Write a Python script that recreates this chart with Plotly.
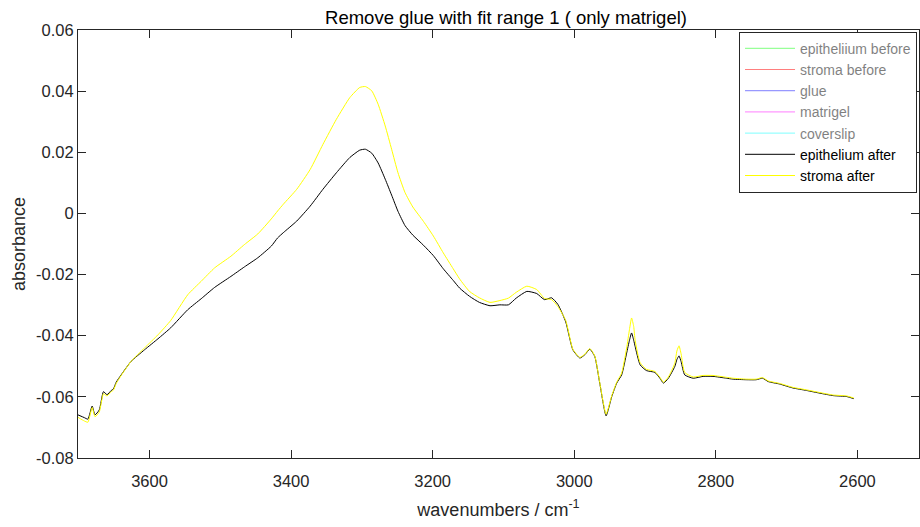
import plotly.graph_objects as go

# ---- data ----
wavenumber = [3701, 3692, 3687, 3681, 3677, 3671, 3665, 3660, 3654, 3651, 3647, 3640, 3626, 3607,
              3588, 3570, 3546, 3527, 3508, 3485, 3466, 3447, 3428, 3419, 3411, 3392, 3373, 3355,
              3336, 3317, 3303, 3295, 3286, 3277, 3267, 3258, 3249, 3239, 3228, 3213, 3199, 3185,
              3171, 3162, 3148, 3134, 3119, 3105, 3093, 3082, 3067, 3053, 3042, 3032, 3023, 3012,
              3002, 2992, 2985, 2978, 2971, 2964, 2955, 2947, 2940, 2933, 2926, 2922, 2919, 2916,
              2914, 2907, 2898, 2886, 2879, 2874, 2867, 2858, 2855, 2852, 2849, 2844, 2832, 2818,
              2804, 2785, 2776, 2757, 2743, 2734, 2726, 2710, 2691, 2672, 2653, 2634, 2615, 2605]

epithelium_after = [-0.0659, -0.0668, -0.0673, -0.0630, -0.0659, -0.0643, -0.0583, -0.0593, -0.0579,
                    -0.0574, -0.0552, -0.0528, -0.0484, -0.0446, -0.0410, -0.0374, -0.0315, -0.0279,
                    -0.0242, -0.0206, -0.0175, -0.0145, -0.0107, -0.0080, -0.0063, -0.0025, 0.0024,
                    0.0079, 0.0133, 0.0183, 0.0207, 0.0210, 0.0197, 0.0165, 0.0112, 0.0060, 0.0007,
                    -0.0040, -0.0071, -0.0104, -0.0138, -0.0181, -0.0219, -0.0244, -0.0271, -0.0291,
                    -0.0302, -0.0299, -0.0299, -0.0277, -0.0255, -0.0262, -0.0282, -0.0276, -0.0298,
                    -0.0355, -0.0446, -0.0473, -0.0462, -0.0444, -0.0468, -0.0555, -0.0662, -0.0599,
                    -0.0555, -0.0528, -0.0457, -0.0415, -0.0391, -0.0415, -0.0435, -0.0495, -0.0514,
                    -0.0520, -0.0539, -0.0555, -0.0539, -0.0501, -0.0478, -0.0466, -0.0485, -0.0528,
                    -0.0539, -0.0533, -0.0533, -0.0539, -0.0542, -0.0544, -0.0544, -0.0539, -0.0550,
                    -0.0558, -0.0571, -0.0579, -0.0588, -0.0596, -0.0599, -0.0606]

stroma_after = [-0.0667, -0.0679, -0.0683, -0.0635, -0.0665, -0.0650, -0.0590, -0.0597, -0.0583,
                -0.0578, -0.0556, -0.0530, -0.0484, -0.0440, -0.0397, -0.0350, -0.0266, -0.0222,
                -0.0178, -0.0140, -0.0102, -0.0067, -0.0018, 0.0008, 0.0030, 0.0079, 0.0144,
                0.0226, 0.0308, 0.0379, 0.0412, 0.0415, 0.0401, 0.0357, 0.0286, 0.0210, 0.0133,
                0.0068, 0.0021, -0.0026, -0.0074, -0.0129, -0.0181, -0.0214, -0.0255, -0.0276,
                -0.0291, -0.0285, -0.0277, -0.0258, -0.0238, -0.0249, -0.0278, -0.0282, -0.0305,
                -0.0350, -0.0444, -0.0471, -0.0460, -0.0442, -0.0466, -0.0553, -0.0657, -0.0596,
                -0.0552, -0.0522, -0.0440, -0.0380, -0.0342, -0.0370, -0.0415, -0.0488, -0.0510,
                -0.0517, -0.0536, -0.0552, -0.0535, -0.0490, -0.0450, -0.0433, -0.0460, -0.0520,
                -0.0535, -0.0530, -0.0530, -0.0536, -0.0539, -0.0542, -0.0542, -0.0537, -0.0548,
                -0.0556, -0.0569, -0.0577, -0.0586, -0.0594, -0.0597, -0.0604]

hidden_names = ["epitheliium before", "stroma before", "glue", "matrigel", "coverslip"]
hidden_colors = ["#00ff00", "#ff0000", "#0000ff", "#ff00ff", "#00ffff"]

x_tick_vals = [3600, 3400, 3200, 3000, 2800, 2600]
x_tick_text = ["3600", "3400", "3200", "3000", "2800", "2600"]
y_tick_vals = [-0.08, -0.06, -0.04, -0.02, 0, 0.02, 0.04, 0.06]
y_tick_text = ["-0.08", "-0.06", "-0.04", "-0.02", "0", "0.02", "0.04", "0.06"]

FONT = "Arial, Liberation Sans, Helvetica, sans-serif"
AX = "#262626"

fig = go.Figure()
for name, color in zip(hidden_names, hidden_colors):
    fig.add_trace(go.Scatter(x=[wavenumber[0]], y=[epithelium_after[0]], mode="lines", name=name,
                             line=dict(color=color, width=1), visible="legendonly"))
fig.add_trace(go.Scatter(x=wavenumber, y=epithelium_after, mode="lines", name="epithelium after",
                         line=dict(color="#000000", width=1, shape="spline", smoothing=0.5)))
fig.add_trace(go.Scatter(x=wavenumber, y=stroma_after, mode="lines", name="stroma after",
                         line=dict(color="#ffff00", width=1, shape="spline", smoothing=0.5)))

axis_common = dict(showline=True, linecolor=AX, linewidth=1, mirror="ticks", ticks="inside",
                   ticklen=8, tickwidth=1, tickcolor=AX, showgrid=False, zeroline=False,
                   tickfont=dict(family=FONT, size=16.5, color=AX))

fig.update_layout(
    width=920, height=527,
    margin=dict(l=78, r=1, t=30, b=69, autoexpand=False),
    paper_bgcolor="white", plot_bgcolor="white",
    font=dict(family=FONT, color=AX),
    title=dict(text="Remove glue with fit range 1 ( only matrigel)", x=0.55, xanchor="center",
               y=0.966, yanchor="middle", yref="container",
               font=dict(family=FONT, size=18.5, color="#000000")),
    xaxis=dict(range=[3701, 2513], tickvals=x_tick_vals, ticktext=x_tick_text,
               ticklabelstandoff=8,
               title=dict(text="wavenumbers / cm<sup>-1</sup>", standoff=14,
                          font=dict(family=FONT, size=18, color=AX)),
               **axis_common),
    yaxis=dict(range=[-0.08, 0.06], tickvals=y_tick_vals, ticktext=y_tick_text,
               title=dict(text="absorbance", standoff=5,
                          font=dict(family=FONT, size=18, color=AX)),
               **axis_common),
    legend=dict(x=0.786, y=0.996, xanchor="left", yanchor="top", bgcolor="white",
                bordercolor=AX, borderwidth=1, font=dict(family=FONT, size=14, color="#000000"),
                itemwidth=50, tracegroupgap=0),
    showlegend=True,
)

fig.write_html("out.html")
